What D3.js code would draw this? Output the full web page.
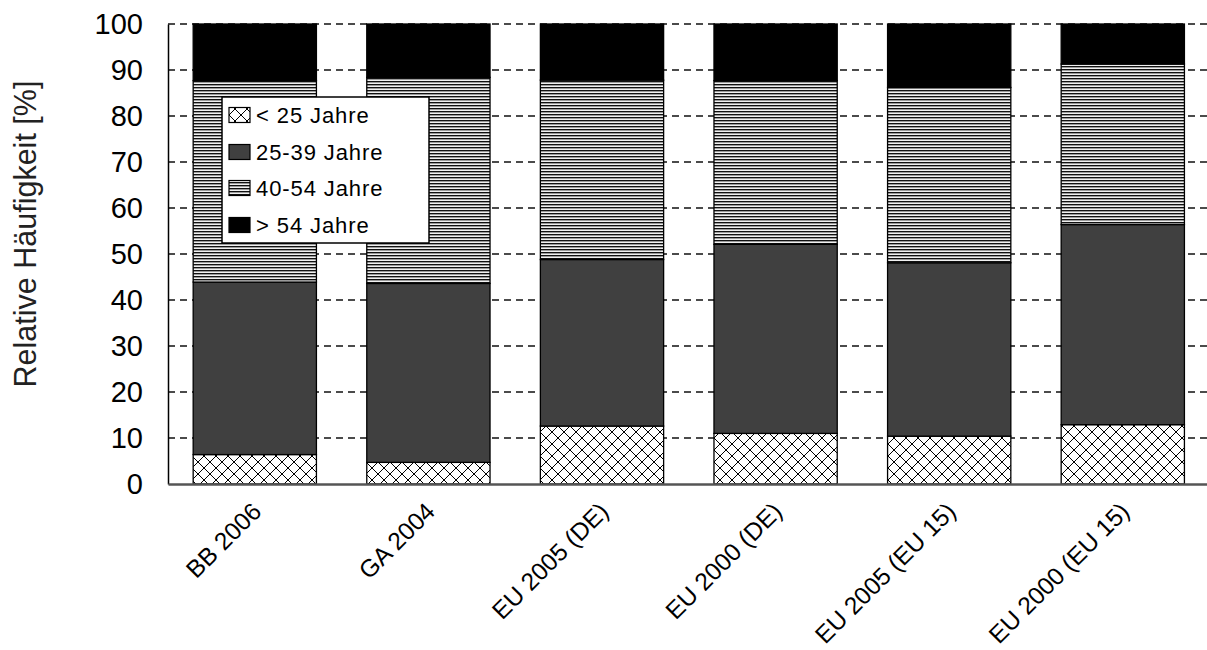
<!DOCTYPE html>
<html>
<head>
<meta charset="utf-8">
<script src="https://cdn.jsdelivr.net/npm/d3@7"></script>
<style>
  html, body { margin: 0; padding: 0; background: #fff; }
  svg { display: block; font-family: "Liberation Sans", Arial, sans-serif; }
</style>
</head>
<body>
<svg id="chart" width="1207" height="650"></svg>
<script>
// Survey groups along the x axis
const categories = ["BB 2006", "GA 2004", "EU 2005 (DE)", "EU 2000 (DE)", "EU 2005 (EU 15)", "EU 2000 (EU 15)"];

// Age-group shares per survey, in percent
const ageUnder25 = [6.4, 4.7, 12.6, 11.0, 10.4, 12.9];
const age25to39  = [37.5, 38.9, 36.2, 41.1, 37.7, 43.5];
const age40to54  = [43.8, 44.8, 39.0, 35.6, 38.1, 34.9];
const ageOver54  = [12.3, 11.6, 12.2, 12.3, 13.8, 8.7];

const seriesNames = ["< 25 Jahre", "25-39 Jahre", "40-54 Jahre", "> 54 Jahre"];
const yTicks = [0, 10, 20, 30, 40, 50, 60, 70, 80, 90, 100];
const yTitle = "Relative Häufigkeit [%]";

const rows = categories.map((c, i) => ({
  cat: c,
  s0: ageUnder25[i],
  s1: age25to39[i],
  s2: age40to54[i],
  s3: ageOver54[i]
}));
const keys = ["s0", "s1", "s2", "s3"];

const svg = d3.select("#chart");
const W = 1207, H = 650;
const plot = { left: 168, right: 1209.6, top: 24, bottom: 484 };

svg.append("rect").attr("width", W).attr("height", H).attr("fill", "#fff");

// Fill patterns
const defs = svg.append("defs");
const cross = defs.append("pattern")
  .attr("id", "pat-cross").attr("patternUnits", "userSpaceOnUse")
  .attr("width", 12).attr("height", 12);
cross.append("rect").attr("width", 12).attr("height", 12).attr("fill", "#fff");
cross.append("path").attr("d", "M0,0L12,12M12,0L0,12")
  .attr("stroke", "#000").attr("stroke-width", 1).attr("fill", "none");

const stripes = defs.append("pattern")
  .attr("id", "pat-stripes").attr("patternUnits", "userSpaceOnUse")
  .attr("width", 6).attr("height", 3);
stripes.append("rect").attr("width", 6).attr("height", 3).attr("fill", "#f0f0f0");
stripes.append("rect").attr("y", 0).attr("width", 6).attr("height", 1).attr("fill", "#111");
stripes.append("rect").attr("y", 1).attr("width", 6).attr("height", 1).attr("fill", "#9a9a9a");

const fills = {
  s0: "url(#pat-cross)",
  s1: "#404040",
  s2: "url(#pat-stripes)",
  s3: "#000"
};

const x = d3.scaleBand()
  .domain(categories)
  .range([plot.left, plot.right])
  .paddingInner(0.29)
  .paddingOuter(0.145);

const y = d3.scaleLinear().domain([0, 100]).range([plot.bottom, plot.top]);

// Dashed gridlines
svg.append("g").selectAll("line")
  .data(yTicks.filter(t => t > 0))
  .join("line")
  .attr("x1", plot.left).attr("x2", W)
  .attr("y1", d => y(d)).attr("y2", d => y(d))
  .attr("stroke", "#111").attr("stroke-width", 1.5)
  .attr("stroke-dasharray", "7,5");

// Stacked bars
const stacked = d3.stack().keys(keys)(rows);
svg.append("g").selectAll("g")
  .data(stacked)
  .join("g")
  .attr("fill", d => fills[d.key])
  .selectAll("rect")
  .data(d => d)
  .join("rect")
  .attr("x", d => x(d.data.cat))
  .attr("width", x.bandwidth())
  .attr("y", d => y(d[1]))
  .attr("height", d => y(d[0]) - y(d[1]))
  .attr("stroke", "#000")
  .attr("stroke-width", 1.3);

// Y axis
const yAxis = svg.append("g")
  .attr("transform", `translate(${plot.left},0)`)
  .call(d3.axisLeft(y).tickValues(yTicks).tickSize(0).tickPadding(25));
yAxis.select(".domain").attr("stroke", "#000").attr("stroke-width", 1.5);
yAxis.selectAll("text")
  .attr("font-size", 29).attr("fill", "#000")
  .attr("font-family", "Liberation Sans, Arial, sans-serif");

// X axis
const xAxis = svg.append("g")
  .attr("transform", `translate(0,${plot.bottom})`)
  .call(d3.axisBottom(x).tickSize(0).tickPadding(0));
xAxis.select(".domain").attr("stroke", "#555").attr("stroke-width", 2.5);
xAxis.selectAll("text")
  .attr("font-size", 24.5).attr("fill", "#000")
  .attr("font-family", "Liberation Sans, Arial, sans-serif")
  .attr("text-anchor", "end")
  .attr("dy", null).attr("y", null)
  .attr("transform", "translate(8,29) rotate(-45)");

// Y axis title
svg.append("text")
  .attr("transform", `translate(36,234) rotate(-90)`)
  .attr("text-anchor", "middle")
  .attr("font-size", 30.5)
  .attr("fill", "#222")
  .text(yTitle);

// Legend
const legend = svg.append("g").attr("transform", "translate(222,97)");
legend.append("rect")
  .attr("width", 207).attr("height", 146)
  .attr("fill", "#fff").attr("stroke", "#000").attr("stroke-width", 1.5);
const rowY = [18, 55, 91, 128];
const item = legend.selectAll("g.item")
  .data(keys)
  .join("g")
  .attr("class", "item")
  .attr("transform", (d, i) => `translate(7,${rowY[i]})`);
item.append("rect")
  .attr("y", -7.5).attr("width", 21).attr("height", 15)
  .attr("fill", d => fills[d]).attr("stroke", "#000").attr("stroke-width", 1.2);
item.append("text")
  .attr("x", 27).attr("y", 8)
  .attr("font-size", 22).attr("letter-spacing", 0.9)
  .attr("fill", "#000")
  .text((d, i) => seriesNames[i]);
</script>
</body>
</html>
